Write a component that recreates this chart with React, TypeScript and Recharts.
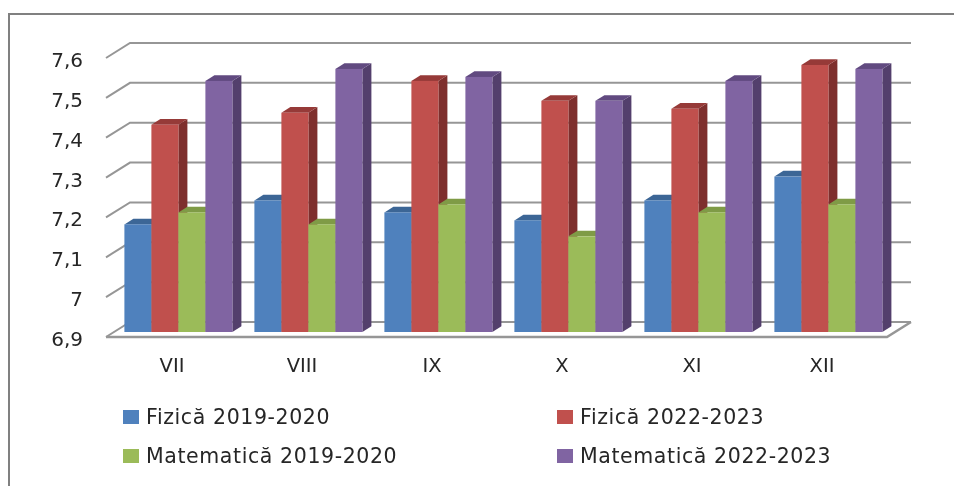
import React from "react";
import { BarChart, Bar, XAxis, YAxis, Legend, CartesianGrid } from "recharts";

const grades = ["VII", "VIII", "IX", "X", "XI", "XII"];
const fizica2019 = [7.17, 7.23, 7.2, 7.18, 7.23, 7.29];
const fizica2022 = [7.42, 7.45, 7.53, 7.48, 7.46, 7.57];
const matematica2019 = [7.2, 7.17, 7.22, 7.14, 7.2, 7.22];
const matematica2022 = [7.53, 7.56, 7.54, 7.48, 7.53, 7.56];
const yTicks = [6.9, 7, 7.1, 7.2, 7.3, 7.4, 7.5, 7.6];

const data = grades.map((grade, i) => ({
  grade,
  fizica2019: fizica2019[i],
  fizica2022: fizica2022[i],
  matematica2019: matematica2019[i],
  matematica2022: matematica2022[i],
}));

const FONT = "Verdana, 'DejaVu Sans', sans-serif";
const TEXT = "#262626";
const GRID = "#969696";

// Depth of the bars inside the 3D box
const DEPTH_X = 9;
const DEPTH_Y = 5.7;

// Front plane of the box sits below-left of the bars, the back wall above-right
function wallLine({ y1, index, key }: any) {
  const front = y1 + 5;
  const back = y1 - 10;
  const isFloor = Math.abs(y1 - 332) < 1;
  return (
    <g key={key ?? index}>
      <polyline
        points={`106,${front} 130,${back} 911,${back}`}
        fill="none"
        stroke={GRID}
        strokeWidth={2}
      />
      {isFloor && (
        <polyline
          points={`106,${front} 887,${front} 911,${back}`}
          fill="none"
          stroke={GRID}
          strokeWidth={2.5}
        />
      )}
    </g>
  );
}

function ValueTick({ y, payload }: any) {
  return (
    <text x={83} y={y + 14} textAnchor="end" fontFamily={FONT} fontSize={20} fill={TEXT}>
      {String(payload.value).replace(".", ",")}
    </text>
  );
}

function Bar3D({ x, y, width, height, fill, side, top }: any) {
  const right = x + width;
  const bottom = y + height;
  return (
    <g>
      <path
        d={`M${right},${y} L${right + DEPTH_X},${y - DEPTH_Y} L${right + DEPTH_X},${bottom - DEPTH_Y} L${right},${bottom} Z`}
        fill={side}
      />
      <path
        d={`M${x},${y} L${x + DEPTH_X},${y - DEPTH_Y} L${right + DEPTH_X},${y - DEPTH_Y} L${right},${y} Z`}
        fill={top}
      />
      <rect x={x} y={y} width={width} height={height} fill={fill} />
    </g>
  );
}

function LegendGrid({ payload }: any) {
  return (
    <div
      style={{
        display: "grid",
        gridTemplateColumns: "434px 300px",
        gridAutoRows: "39px",
        marginLeft: 123,
        fontFamily: FONT,
        fontSize: 20.5,
        letterSpacing: 0.6,
        color: TEXT,
      }}
    >
      {payload.map((entry: any) => (
        <div key={entry.value} style={{ display: "flex", alignItems: "center", whiteSpace: "nowrap" }}>
          <span style={{ width: 16, height: 14, marginRight: 7, background: entry.color }} />
          {entry.value}
        </div>
      ))}
    </div>
  );
}

export default function App() {
  return (
    <div style={{ position: "absolute", left: 0, top: 0, width: 954, height: 486, background: "#fff", overflow: "hidden" }}>
      <div
        style={{
          position: "absolute",
          left: 8,
          top: 13,
          right: 0,
          bottom: 0,
          borderTop: "2px solid #808080",
          borderLeft: "2px solid #808080",
        }}
      />
      <div style={{ position: "absolute", left: 0, top: 0, filter: "blur(0.4px)" }}>
        <BarChart
          width={954}
          height={486}
          data={data}
          margin={{ top: 53, right: 60, bottom: 114, left: 0 }}
          barCategoryGap="8%"
          barGap={0}
        >
          <CartesianGrid vertical={false} horizontal={wallLine} syncWithTicks />
          <YAxis
            width={114}
            domain={[6.9, 7.6]}
            ticks={yTicks}
            interval={0}
            axisLine={false}
            tickLine={false}
            tick={<ValueTick />}
          />
          <XAxis
            dataKey="grade"
            height={40}
            axisLine={false}
            tickLine={false}
            interval={0}
            tick={{ fontFamily: FONT, fontSize: 19.5, fill: TEXT, dx: -7, dy: 18 }}
          />
          <Legend
            layout="horizontal"
            verticalAlign="middle"
            align="center"
            wrapperStyle={{ left: 0, top: 397, width: 954 }}
            content={<LegendGrid />}
          />
          <Bar dataKey="fizica2019" name="Fizică 2019-2020" fill="#4f81bd" isAnimationActive={false}
            shape={(p: any) => <Bar3D {...p} side="#385d8a" top="#3c6696" />} />
          <Bar dataKey="fizica2022" name="Fizică 2022-2023" fill="#c0504d" isAnimationActive={false}
            shape={(p: any) => <Bar3D {...p} side="#7e2f2d" top="#963a38" />} />
          <Bar dataKey="matematica2019" name="Matematică 2019-2020" fill="#9bbb59" isAnimationActive={false}
            shape={(p: any) => <Bar3D {...p} side="#71893f" top="#7f9b46" />} />
          <Bar dataKey="matematica2022" name="Matematică 2022-2023" fill="#8064a2" isAnimationActive={false}
            shape={(p: any) => <Bar3D {...p} side="#533f6c" top="#614a80" />} />
        </BarChart>
      </div>
    </div>
  );
}
